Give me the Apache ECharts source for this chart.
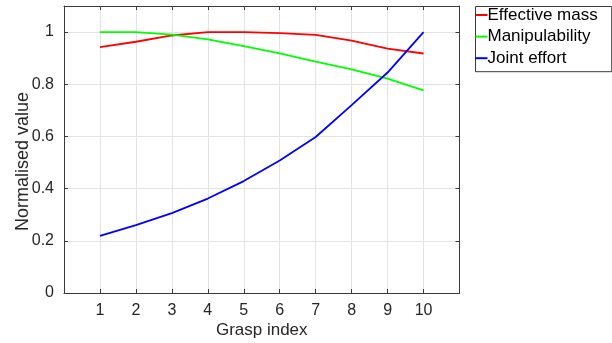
<!DOCTYPE html>
<html><head><meta charset="utf-8">
<script src="https://cdn.jsdelivr.net/npm/echarts@6/dist/echarts.min.js"></script>
<style>html,body{margin:0;padding:0;background:#fff}#c{width:612px;height:343px}</style>
</head><body><div id="c"></div>
<script>
const graspIndex = [1, 2, 3, 4, 5, 6, 7, 8, 9, 10];
const effectiveMass = [0.942, 0.963, 0.987, 1.0, 1.0, 0.996, 0.989, 0.967, 0.937, 0.918];
const manipulability = [1.0, 1.0, 0.99, 0.972, 0.946, 0.918, 0.887, 0.857, 0.822, 0.777];
const jointEffort = [0.219, 0.260, 0.306, 0.362, 0.429, 0.508, 0.598, 0.720, 0.845, 1.0];
const yTicks = [0, 0.2, 0.4, 0.6, 0.8, 1];

const FONT = 'Liberation Sans';
const TICK_FS = 16;
const FS = 17;
const pairs = arr => graspIndex.map((x, i) => [x, arr[i]]);
const axisCol = '#3a3a3a';
const textCol = '#262626';

const chart = echarts.init(document.getElementById('c'), null, {renderer: 'canvas'});
const xBase = {
  type: 'value', min: 0, max: 11, interval: 1,
  axisLine: {show: true, onZero: false, lineStyle: {color: axisCol, width: 1}},
  axisTick: {show: true, inside: true, length: 4, lineStyle: {color: axisCol}},
  splitLine: {show: false}
};
const yBase = {
  type: 'value', min: 0, max: 1.1, interval: 0.2,
  axisLine: {show: true, onZero: false, lineStyle: {color: axisCol, width: 1}},
  axisTick: {show: true, inside: true, length: 4, lineStyle: {color: axisCol}},
  splitLine: {show: false}
};
chart.setOption({
  animation: false,
  textStyle: {fontFamily: FONT},
  grid: {left: 64, right: 152.5, top: 6, bottom: 50, show: false, containLabel: false, outerBoundsMode: 'none'},
  xAxis: [
    Object.assign({}, xBase, {
      position: 'bottom',
      name: 'Grasp index', nameLocation: 'middle', nameGap: 29, nameMoveOverlap: false,
      nameTextStyle: {fontFamily: FONT, fontSize: FS, color: textCol},
      axisLabel: {fontFamily: FONT, fontSize: TICK_FS, color: textCol, margin: 10,
        formatter: v => (graspIndex.indexOf(v) >= 0 ? String(v) : '')},
      splitLine: {show: true, lineStyle: {color: '#e3e3e3', width: 1}}
    }),
    Object.assign({}, xBase, {position: 'top', axisLabel: {show: false}})
  ],
  yAxis: [
    Object.assign({}, yBase, {
      position: 'left',
      name: 'Normalised value', nameLocation: 'middle', nameGap: 32, nameRotate: 90, nameMoveOverlap: false,
      nameTextStyle: {fontFamily: FONT, fontSize: 18, color: textCol, padding: [0, 24, 0, 0]},
      axisLabel: {fontFamily: FONT, fontSize: TICK_FS, color: textCol, margin: 10,
        formatter: v => {
          const t = yTicks.find(y => Math.abs(y - v) < 1e-6);
          return t === undefined ? '' : String(t);
        }},
      splitLine: {show: true, lineStyle: {color: '#e3e3e3', width: 1}}
    }),
    Object.assign({}, yBase, {position: 'right', axisLabel: {show: false}})
  ],
  legend: {
    orient: 'vertical', left: 475.5, top: 6.5,
    backgroundColor: '#fff', borderColor: axisCol, borderWidth: 1,
    padding: [0, 14, 5, 0],
    itemGap: 4.6, itemWidth: 12, itemHeight: 2, icon: 'rect',
    textStyle: {fontFamily: FONT, fontSize: FS, color: '#000', padding: [0, 0, 0, -5]},
    data: ['Effective mass', 'Manipulability', 'Joint effort']
  },
  series: [
    {name: 'Effective mass', type: 'line', data: pairs(effectiveMass), showSymbol: false,
      lineStyle: {color: '#ff0000', width: 1.8}, itemStyle: {color: '#ff0000'}},
    {name: 'Manipulability', type: 'line', data: pairs(manipulability), showSymbol: false,
      lineStyle: {color: '#00ff00', width: 1.8}, itemStyle: {color: '#00ff00'}},
    {name: 'Joint effort', type: 'line', data: pairs(jointEffort), showSymbol: false,
      lineStyle: {color: '#0000ff', width: 1.8}, itemStyle: {color: '#0000ff'}}
  ]
});
</script></body></html>
